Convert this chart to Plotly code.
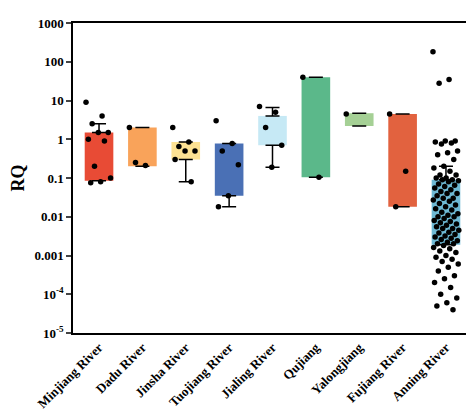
import plotly.graph_objects as go

rivers = ["Minjiang River", "Dadu River", "Jinsha River", "Tuojiang River", "Jialing River",
          "Qujiang", "Yalongjiang", "Fujiang River", "Anning River"]
colors = ["#E84B35", "#F9A35A", "#FDE293", "#4A70B5", "#C6E9F5",
          "#5BB88A", "#A5D095", "#E2623F", "#6EB9D4"]
q1 = [0.085, 0.2, 0.3, 0.035, 0.7, 0.105, 2.2, 0.018, 0.0019]
q3 = [1.5, 2.0, 0.85, 0.78, 4.0, 40, 4.7, 4.5, 0.09]
whisk_hi = [2.5, 2.0, 0.85, 0.78, 6.6, 40, 4.7, 4.5, 0.2]
whisk_lo = [0.085, 0.2, 0.08, 0.018, 0.19, 0.105, 2.2, 0.018, 0.0019]
points = [
    [9, 4, 2.5, 1.5, 1.5, 1.0, 0.9, 0.2, 0.1, 0.08, 0.075],
    [2.0, 0.21, 0.25],
    [2.0, 0.85, 0.65, 0.5, 0.5, 0.3, 0.08],
    [3.0, 0.78, 0.5, 0.22, 0.035, 0.018],
    [7, 5, 2, 0.7, 0.19],
    [40, 0.105],
    [4.5],
    [4.5, 0.15, 0.018],
    [180, 35, 28, 0.9, 0.9, 0.85, 0.8, 0.75, 0.5, 0.45, 0.4, 0.3, 0.2, 0.18, 0.15, 0.12, 0.12,
     0.1, 0.1, 0.09, 0.09, 0.085, 0.08, 0.07, 0.065, 0.06, 0.055, 0.05, 0.045, 0.04, 0.04,
     0.035, 0.03, 0.03, 0.027, 0.025, 0.022, 0.02, 0.018, 0.016, 0.015, 0.013, 0.012, 0.011,
     0.01, 0.01, 0.009, 0.008, 0.0075, 0.007, 0.0065, 0.006, 0.0055, 0.005, 0.005, 0.0045,
     0.004, 0.0038, 0.0035, 0.0032, 0.003, 0.0028, 0.0026, 0.0024, 0.0022, 0.002, 0.002,
     0.0018, 0.0016, 0.0015, 0.0013, 0.0012, 0.001, 0.0009, 0.0008, 0.0007, 0.0006, 0.0005,
     0.0004, 0.0003, 0.00025, 0.0002, 0.00015, 0.0001, 8e-5, 6e-5, 5e-5, 4e-5],
]
tick_vals = [1e-5, 1e-4, 1e-3, 1e-2, 0.1, 1, 10, 100, 1000]
tick_text = ["10<sup>-5</sup>", "10<sup>-4</sup>", "0.001", "0.01", "0.1", "1", "10", "100", "1000"]

fig = go.Figure()
xs = list(range(len(rivers)))
fig.add_bar(x=xs, base=q1, y=[b - a for a, b in zip(q1, q3)], width=0.66,
            marker=dict(color=colors, line=dict(width=0)), showlegend=False)
fig.add_scatter(x=xs, y=q3, mode="markers", marker=dict(opacity=0), showlegend=False,
                error_y=dict(type="data", symmetric=False,
                             array=[h - b for h, b in zip(whisk_hi, q3)],
                             arrayminus=[0] * len(xs), color="black", thickness=1.5, width=7))
fig.add_scatter(x=xs, y=q1, mode="markers", marker=dict(opacity=0), showlegend=False,
                error_y=dict(type="data", symmetric=False, array=[0] * len(xs),
                             arrayminus=[b - l for b, l in zip(q1, whisk_lo)],
                             color="black", thickness=1.5, width=7))
for i, vals in enumerate(points):
    spread = 0.3
    jx = [i + spread * (((k * 0.618034) % 1) * 2 - 1) for k in range(len(vals))]
    fig.add_scatter(x=jx, y=vals, mode="markers", showlegend=False,
                    marker=dict(color="black", size=5.5))

fig.update_layout(
    width=474, height=411, margin=dict(l=62, r=8, t=11, b=81),
    plot_bgcolor="white", paper_bgcolor="white",
    font=dict(family="Liberation Serif", size=13, color="black"),
)
fig.update_xaxes(tickvals=xs, ticktext=[f"<b>{r}</b>" for r in rivers], tickangle=-45,
                 range=[-0.6, 8.6], showline=True, linecolor="black", linewidth=1.5,
                 mirror=True, ticks="", showgrid=False)
fig.update_yaxes(type="log", range=[-5, 3], tickvals=tick_vals,
                 ticktext=[f"<b>{t}</b>" for t in tick_text],
                 showline=True, linecolor="black", linewidth=1.5, mirror=True,
                 ticks="outside", ticklen=5, tickwidth=1.5, showgrid=False,
                 title=dict(text="<b>RQ</b>", font=dict(size=18), standoff=6))
fig.write_html("out.html")
